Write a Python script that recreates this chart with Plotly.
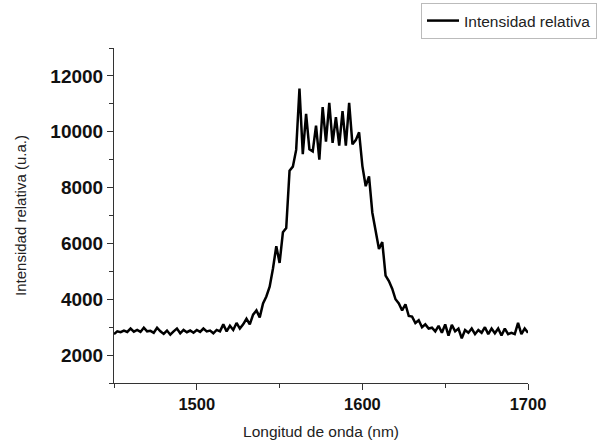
import plotly.graph_objects as go

wavelength_start = 1450
wavelength_step = 2
intensity = [
    2750, 2850, 2820, 2880, 2830, 2950, 2840, 2900, 2830, 2980,   # 1450-1468
    2850, 2870, 2800, 2980, 2850, 2760, 2880, 2730, 2850, 2950,   # 1470-1488
    2780, 2900, 2820, 2880, 2800, 2900, 2830, 2950, 2850, 2880,   # 1490-1508
    2780, 2900, 2850, 3100, 2850, 3050, 2900, 3150, 2950, 3100,   # 1510-1528
    3300, 3100, 3450, 3600, 3350, 3850, 4100, 4450, 5100, 5900,   # 1530-1548
    5300, 6400, 6550, 8600, 8750, 9350, 11550, 9200, 10640, 9375, # 1550-1568
    9300, 10220, 9000, 10880, 9650, 11035, 9600, 10520, 9500, 10735, # 1570-1588
    9500, 11035, 9550, 9700, 9980, 8770, 8050, 8400, 7100, 6500,  # 1590-1608
    5800, 6050, 4850, 4650, 4380, 4000, 3850, 3600, 3820, 3400,   # 1610-1628
    3380, 3150, 3250, 3000, 3100, 2950, 2980, 2850, 3050, 2800,   # 1630-1648
    3100, 2700, 3080, 2850, 2950, 2600, 2900, 2800, 2950, 2750,   # 1650-1668
    2900, 2800, 3000, 2750, 2950, 2780, 2950, 2700, 2950, 2750,   # 1670-1688
    2800, 2750, 3150, 2750, 2950, 2800,                           # 1690-1700
]
wavelength = [wavelength_start + i * wavelength_step for i in range(len(intensity))]

x_ticks = [1500, 1600, 1700]
y_ticks = [2000, 4000, 6000, 8000, 10000, 12000]
y_tick_labels = ["2000", "4000", "6000", "8000", "10000", "12000"]

FONT = "Arial, 'Liberation Sans', sans-serif"

fig = go.Figure()
fig.add_trace(go.Scatter(
    x=wavelength, y=intensity, mode="lines",
    name="Intensidad relativa",
    line=dict(color="black", width=2.5),
))

fig.update_layout(
    width=598, height=441,
    margin=dict(l=114, r=70, t=48, b=58, autoexpand=False),
    paper_bgcolor="white", plot_bgcolor="white",
    font=dict(family=FONT, color="#222"),
    showlegend=True,
    legend=dict(
        xref="container", yref="container",
        x=597 / 598, xanchor="right",
        y=1 - 3 / 441, yanchor="top",
        bordercolor="#bbbbbb", borderwidth=1,
        font=dict(family=FONT, size=15.5, color="#222"),
        itemwidth=32, tracegroupgap=0,
    ),
    xaxis=dict(
        range=[1450, 1700], tickvals=x_ticks,
        ticks="outside", ticklen=6, tickwidth=1, tickcolor="#333",
        showline=True, linecolor="#333", linewidth=1,
        showgrid=False, zeroline=False, automargin=False,
        tickfont=dict(family=FONT, size=16.5, color="#111", weight="bold"),
        minor=dict(tickvals=[1450, 1550, 1650], ticks="outside", ticklen=4, tickcolor="#333", showgrid=False),
        title=dict(text="Longitud de onda (nm)", font=dict(family=FONT, size=15.5, color="#222"), standoff=14),
    ),
    yaxis=dict(
        range=[1000, 13000], tickvals=y_ticks, ticktext=y_tick_labels,
        ticks="outside", ticklen=6, tickwidth=1, tickcolor="#333",
        showline=True, linecolor="#333", linewidth=1,
        showgrid=False, zeroline=False, automargin=False,
        tickfont=dict(family=FONT, size=19, color="#111", weight="bold"),
        minor=dict(tickvals=[1000, 3000, 5000, 7000, 9000, 11000, 13000], ticks="outside", ticklen=4, tickcolor="#333", showgrid=False),
        title=dict(text="Intensidad relativa (u.a.)", font=dict(family=FONT, size=15, color="#222"), standoff=20),
    ),
)

fig.write_html("out.html")
